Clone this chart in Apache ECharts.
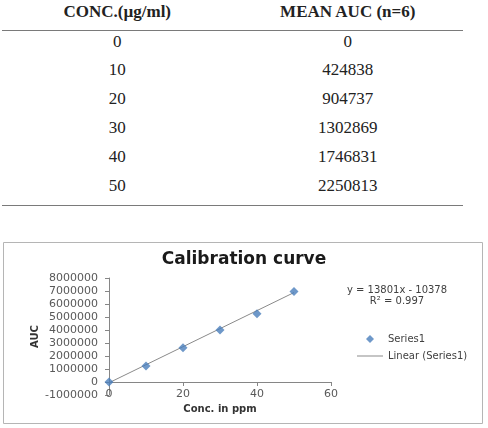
<!DOCTYPE html>
<html>
<head>
<meta charset="utf-8">
<script src="https://cdn.jsdelivr.net/npm/echarts@6/dist/echarts.min.js"></script>
<style>
  html, body { margin: 0; padding: 0; background: #fff; }
  #page { position: relative; width: 488px; height: 428px; overflow: hidden; }
  #table { position: absolute; left: 2px; top: 0; width: 461px; font-family: 'Liberation Serif', serif; font-size: 17px; color: #222; }
  .row { display: flex; height: 28.8px; line-height: 28.8px; }
  .cell { width: 50%; text-align: center; }
  .rule { position: absolute; left: 0; width: 461px; height: 1.5px; background: #7a7a7a; }
  #chart { position: absolute; left: 0; top: 0; width: 488px; height: 428px; }
</style>
</head>
<body>
<div id="page">
  <div id="table"></div>
  <div id="chart"></div>
</div>
<script>
// table contents
const tableHeaders = ['CONC.(µg/ml)', 'MEAN AUC (n=6)'];
const tableConc = ['0', '10', '20', '30', '40', '50'];
const tableAuc = ['0', '424838', '904737', '1302869', '1746831', '2250813'];

// chart points
const plotConc = [0, 10, 20, 30, 40, 50];
const plotAuc = [0, 1230000, 2640000, 4000000, 5250000, 6970000];

// trend line end points
const trendConc = [0, 50];
const trendAuc = [-60000, 6880000];

const equationLines = ['y = 13801x - 10378', 'R² = 0.997'];

// build the table
const table = document.getElementById('table');
const header = document.createElement('div');
header.className = 'row';
header.style.cssText = 'position:absolute;top:0;width:100%;height:24px;line-height:24px;font-weight:bold;';
tableHeaders.forEach(h => {
  const c = document.createElement('div');
  c.className = 'cell';
  c.textContent = h;
  header.appendChild(c);
});
table.appendChild(header);

const topRule = document.createElement('div');
topRule.className = 'rule';
topRule.style.top = '29.5px';
table.appendChild(topRule);

const body = document.createElement('div');
body.style.cssText = 'position:absolute;top:27.6px;width:100%;';
tableConc.forEach((conc, i) => {
  const r = document.createElement('div');
  r.className = 'row';
  [conc, tableAuc[i]].forEach(v => {
    const c = document.createElement('div');
    c.className = 'cell';
    c.textContent = v;
    r.appendChild(c);
  });
  body.appendChild(r);
});
table.appendChild(body);

const bottomRule = document.createElement('div');
bottomRule.className = 'rule';
bottomRule.style.top = '204.5px';
table.appendChild(bottomRule);

// chart
const axisLabelStyle = { color: '#595959', fontSize: 11, fontFamily: 'DejaVu Sans' };

const option = {
  animation: false,
  title: {
    text: 'Calibration curve',
    left: 'center',
    top: 246,
    textStyle: { fontFamily: 'DejaVu Sans', fontSize: 17, fontWeight: 'bold', color: '#1a1a1a' }
  },
  legend: {
    orient: 'vertical',
    left: 352,
    top: 329,
    itemWidth: 26,
    itemHeight: 8,
    itemGap: 7,
    symbolKeepAspect: true,
    textStyle: { fontFamily: 'DejaVu Sans', fontSize: 10, color: '#404040' },
    data: [
      { name: 'Series1', icon: 'path://M0,-4L4,0L0,4L-4,0Z' },
      { name: 'Linear (Series1)', icon: 'path://M0,0L26,0L26,1L0,1Z' }
    ]
  },
  grid: { left: 109, right: 157, top: 278, bottom: 33 },
  xAxis: {
    type: 'value',
    min: 0,
    max: 60,
    interval: 20,
    axisLine: { onZero: true, lineStyle: { color: '#868686' } },
    axisTick: { show: true, length: 4, lineStyle: { color: '#868686' } },
    axisLabel: Object.assign({ margin: -6 }, axisLabelStyle),
    splitLine: { show: false }
  },
  yAxis: {
    type: 'value',
    min: -1000000,
    max: 8000000,
    interval: 1000000,
    name: 'AUC',
    nameLocation: 'middle',
    nameRotate: 90,
    nameGap: 69,
    nameTextStyle: { fontFamily: 'DejaVu Sans', fontSize: 10, fontWeight: 'bold', color: '#333' },
    axisLine: { show: true, lineStyle: { color: '#868686' } },
    axisTick: { show: true, length: 4, lineStyle: { color: '#868686' } },
    axisLabel: Object.assign({ margin: 11, formatter: v => String(v) }, axisLabelStyle),
    splitLine: { show: false }
  },
  graphic: [
    {
      type: 'rect',
      shape: { x: 3.5, y: 242.5, width: 479, height: 181 },
      style: { fill: 'none', stroke: '#b5b5b5', lineWidth: 1 },
      silent: true
    },
    {
      type: 'text',
      x: 220,
      y: 409,
      style: {
        text: 'Conc. in ppm',
        align: 'center',
        verticalAlign: 'middle',
        fontFamily: 'DejaVu Sans',
        fontSize: 10,
        fontWeight: 'bold',
        fill: '#333'
      }
    },
    {
      type: 'text',
      x: 397,
      y: 296,
      style: {
        text: equationLines.join('\n'),
        align: 'center',
        verticalAlign: 'middle',
        fontFamily: 'DejaVu Sans',
        fontSize: 10,
        lineHeight: 11,
        fill: '#404040'
      }
    }
  ],
  series: [
    {
      name: 'Linear (Series1)',
      type: 'line',
      data: trendConc.map((x, i) => [x, trendAuc[i]]),
      symbol: 'none',
      lineStyle: { color: '#8a8a8a', width: 1 },
      itemStyle: { color: '#8a8a8a' },
      z: 1
    },
    {
      name: 'Series1',
      type: 'scatter',
      data: plotConc.map((x, i) => [x, plotAuc[i]]),
      symbol: 'diamond',
      symbolSize: 9,
      itemStyle: { color: '#4a7ebb' },
      z: 2
    }
  ]
};

const chart = echarts.init(document.getElementById('chart'));
chart.setOption(option);
</script>
</body>
</html>
